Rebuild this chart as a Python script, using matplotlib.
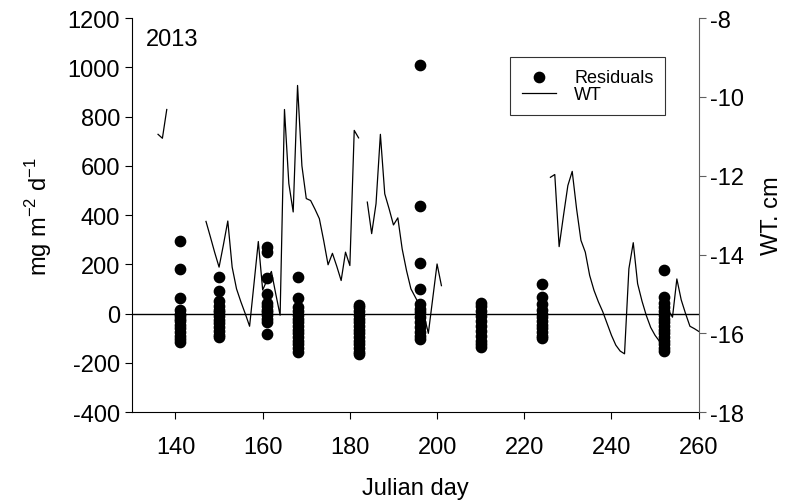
# Residuals and water table (WT) vs Julian day, 2013
import numpy as np
import matplotlib.pyplot as plt

plt.rcParams['font.family'] = ['Liberation Sans', 'DejaVu Sans']
plt.rcParams['axes.unicode_minus'] = False

# residual clusters: sampling day -> residual values (mg m-2 d-1)
res_days = [141, 150, 161, 168, 182, 196, 210, 224, 252]
res_vals = [
    [296, 183, 64, 15, 0, -10, -20, -30, -45, -60, -75, -90, -105, -115],
    [149, 92, 50, 30, 15, 5, -10, -25, -40, -55, -70, -85, -95],
    [271, 250, 146, 78, 45, 30, 15, 5, -5, -20, -35, -84],
    [149, 64, 25, 10, -5, -20, -35, -50, -65, -80, -95, -110, -125, -140, -155],
    [37, 25, 10, -5, -20, -35, -50, -65, -80, -95, -110, -125, -140, -155, -165],
    [1011, 436, 206, 101, 40, 20, 5, -15, -35, -55, -75, -90, -105],
    [45, 30, 10, -10, -30, -50, -70, -90, -110, -125, -135],
    [122, 68, 40, 13, 0, -15, -30, -45, -60, -75, -90, -100],
    [176, 68, 45, 25, 10, -5, -20, -35, -50, -65, -80, -95, -110, -125, -140, -150],
]

# water table, cm (nan = gap in record)
wt_day = [136, 137, 138, 139,
          147, 148, 149, 150, 151, 152, 153, 154, 155, 156, 157, 158, 159, 160,
          161, 162, 163, 164, 165, 166, 167, 168, 169, 170, 171, 172, 173, 174,
          175, 176, 177, 178, 179, 180, 181, 182, 183,
          184, 185, 186, 187, 188, 189, 190, 191, 192, 193, 194, 195, 196, 197,
          198, 199, 200, 201, 202,
          226, 227, 228, 229, 230, 231, 232, 233, 234, 235, 236, 237, 238, 239,
          240, 241, 242, 243, 244, 245, 246, 247, 248, 249, 250, 251, 252, 253,
          254, 255, 256, 257, 258, 259, 260]
wt_cm = [-10.95, -11.05, -10.32, np.nan,
         -13.16, -13.55, -13.95, -14.32, -13.75, -13.15, -14.32, -14.87, -15.2,
         -15.5, -15.82, -14.75, -13.67, -14.9,
         -14.65, -14.43, -15.0, -15.54, -10.32, -12.2, -12.92, -9.71, -11.75,
         -12.58, -12.63, -12.85, -13.09, -13.65,
         -14.26, -13.97, -14.3, -14.66, -13.94, -14.28, -10.85, -11.04, np.nan,
         -12.67, -13.47, -12.71, -10.95, -12.46, -12.84, -13.25, -13.07, -13.86,
         -14.41, -14.87, -15.08, -15.29, -15.53,
         -16.0, -15.12, -14.24, -14.79, np.nan,
         -12.04, -11.97, -13.8, -13.01, -12.25, -11.89, -12.84, -13.64, -13.94,
         -14.53, -14.91, -15.2, -15.45, -15.75,
         -16.05, -16.3, -16.45, -16.52, -14.36, -13.7, -14.74, -15.18, -15.55,
         -15.85, -16.05, -16.2, -15.9, -15.4,
         -15.59, -14.62, -15.15, -15.5, -15.82, -15.88, -15.95]

xs = np.concatenate([[d] * len(v) for d, v in zip(res_days, res_vals)])
ys = np.concatenate(res_vals)

fig = plt.figure(figsize=(7.85, 5.02), dpi=100)
ax = fig.add_axes([0.168, 0.177, 0.722, 0.785])
ax2 = ax.twinx()

pts = ax.scatter(xs, ys, s=55, color='black', zorder=3, label='Residuals')
ax.axhline(0, color='black', lw=1)
line, = ax2.plot(wt_day, wt_cm, color='black', lw=0.9, label='WT')

ax.set_xlim(130, 260)
ax.set_ylim(-400, 1200)
ax.set_xticks(range(140, 261, 20))
ax.set_yticks(range(-400, 1201, 200))
ax2.set_ylim(-18, -8)
ax2.set_yticks(range(-18, -7, 2))

for a in (ax, ax2):
    a.spines['top'].set_visible(False)
    a.tick_params(direction='out', length=5, labelsize=17)
ax.tick_params(axis='x', pad=12)
ax.spines['right'].set_visible(False)
ax2.spines['left'].set_visible(False)
ax2.spines['bottom'].set_visible(False)
ax2.spines['right'].set_color('#606060')
ax2.tick_params(axis='y', color='#606060')

ax.set_xlabel('Julian day', fontsize=17, labelpad=14)
ax.set_ylabel('mg m$^{\\mathregular{-2}}$ d$^{\\mathregular{-1}}$', fontsize=17,
              labelpad=10)
ax2.set_ylabel('WT. cm', fontsize=17, labelpad=12)
ax.text(0.025, 0.975, '2013', transform=ax.transAxes, fontsize=17, va='top')

leg = ax2.legend([pts, line], ['Residuals', 'WT'], loc='upper left',
                 bbox_to_anchor=(0.667, 0.901), fontsize=13, frameon=True,
                 fancybox=False, edgecolor='black', labelspacing=0.0,
                 handlelength=1.9, handletextpad=1.0, borderpad=0.65,
                 borderaxespad=0)
leg.get_frame().set_linewidth(0.8)

plt.savefig('out.png', dpi=100)
